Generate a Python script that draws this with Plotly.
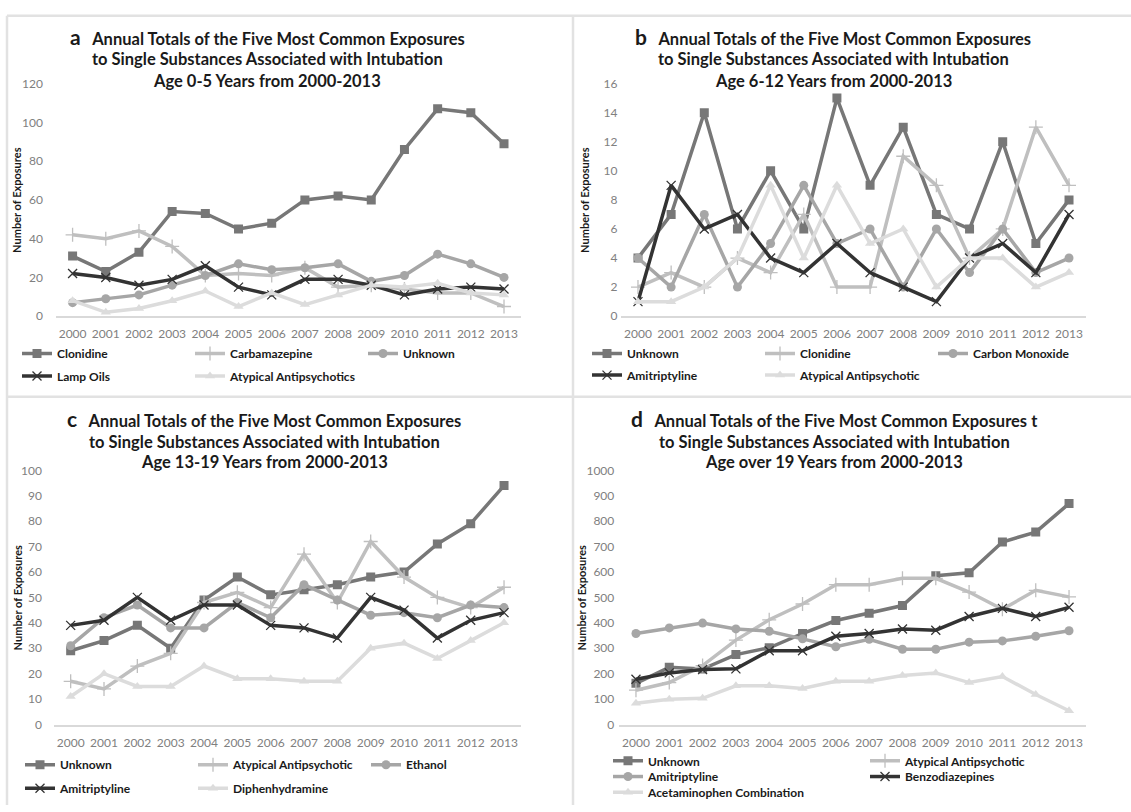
import plotly.graph_objects as go

W, H = 1131, 812
years = list(range(2000, 2014))

# ---- Panel a: Age 0-5 ----
a_names = ["Clonidine", "Carbamazepine", "Unknown", "Lamp Oils", "Atypical Antipsychotics"]
a_clonidine = [31, 23, 33, 54, 53, 45, 48, 60, 62, 60, 86, 107, 105, 89]
a_carbamazepine = [42, 40, 44, 36, 21, 22, 21, 25, 15, 16, 14, 12, 12, 5]
a_unknown = [7, 9, 11, 16, 21, 27, 24, 25, 27, 18, 21, 32, 27, 20]
a_lamp_oils = [22, 20, 16, 19, 26, 15, 11, 19, 19, 16, 11, 14, 15, 14]
a_atypical = [8, 2, 4, 8, 13, 5, 12, 6, 11, 16, 15, 17, 12, 11]

# ---- Panel b: Age 6-12 ----
b_names = ["Unknown", "Clonidine", "Carbon Monoxide", "Amitriptyline", "Atypical Antipsychotic"]
b_unknown = [4, 7, 14, 6, 10, 6, 15, 9, 13, 7, 6, 12, 5, 8]
b_clonidine = [2, 3, 2, 4, 3, 7, 2, 2, 11, 9, 4, 6, 13, 9]
b_carbon_monoxide = [4, 2, 7, 2, 5, 9, 5, 6, 2, 6, 3, 6, 3, 4]
b_amitriptyline = [1, 9, 6, 7, 4, 3, 5, 3, 2, 1, 4, 5, 3, 7]
b_atypical = [1, 1, 2, 4, 9, 4, 9, 5, 6, 2, 4, 4, 2, 3]

# ---- Panel c: Age 13-19 ----
c_names = ["Unknown", "Atypical Antipsychotic", "Ethanol", "Amitriptyline", "Diphenhydramine"]
c_unknown = [29, 33, 39, 30, 49, 58, 51, 53, 55, 58, 60, 71, 79, 94]
c_atypical = [17, 14, 23, 28, 48, 52, 46, 67, 48, 72, 58, 50, 46, 54]
c_ethanol = [31, 42, 47, 38, 38, 48, 42, 55, 49, 43, 44, 42, 47, 46]
c_amitriptyline = [39, 41, 50, 41, 47, 47, 39, 38, 34, 50, 45, 34, 41, 44]
c_diphenhydramine = [11, 20, 15, 15, 23, 18, 18, 17, 17, 30, 32, 26, 33, 40]

# ---- Panel d: Age over 19 ----
d_names = ["Unknown", "Atypical Antipsychotic", "Amitriptyline", "Benzodiazepines", "Acetaminophen Combination"]
d_unknown = [162, 225, 218, 275, 302, 358, 409, 438, 468, 585, 597, 718, 757, 869]
d_atypical = [135, 165, 232, 332, 412, 474, 550, 550, 575, 575, 521, 453, 528, 502]
d_amitriptyline = [358, 380, 399, 376, 367, 337, 306, 335, 296, 296, 324, 329, 347, 369]
d_benzodiazepines = [178, 203, 216, 219, 290, 290, 347, 358, 376, 371, 425, 457, 425, 461]
d_acetaminophen = [84, 99, 103, 152, 152, 142, 170, 170, 193, 203, 165, 189, 118, 54]

titles = {
    "a": ["Annual Totals of the Five Most Common Exposures",
          "to Single Substances Associated with Intubation",
          "Age 0-5 Years from 2000-2013"],
    "b": ["Annual Totals of the Five Most Common Exposures",
          "to Single Substances Associated with Intubation",
          "Age 6-12 Years from 2000-2013"],
    "c": ["Annual Totals of the Five Most Common Exposures",
          "to Single Substances Associated with Intubation",
          "Age 13-19 Years from 2000-2013"],
    "d": ["Annual Totals of the Five Most Common Exposures t",
          "to Single Substances Associated with Intubation",
          "Age over 19 Years from 2000-2013"],
}

FONT = "Lato"
COLORS = ["#777777", "#bfbfbf", "#a6a6a6", "#333333", "#dcdcdc"]
SYMBOLS = ["square", "cross-thin", "circle", "x-thin", "triangle-up"]
SIZES = [9, 10, 9, 9, 9]


def pxx(x):
    return x / W


def pxy(y):
    return 1 - y / H


fig = go.Figure()

panels = [
    dict(key="a", ax="", data=[a_clonidine, a_carbamazepine, a_unknown, a_lamp_oils, a_atypical],
         names=a_names, xd=(56, 520.6), yd=(77, 314), yr=120, dt=20, ystand=12,
         tx=267, ty=(29, 52, 74), ytx=17,
         rows=[(352, 17), (375, 17)], split=[3, 2], ew=168),
    dict(key="b", ax="2", data=[b_unknown, b_clonidine, b_carbon_monoxide, b_amitriptyline, b_atypical],
         names=b_names, xd=(621.4, 1085.6), yd=(77, 314), yr=16, dt=2, ystand=3,
         tx=833, ty=(29, 52, 74), ytx=585,
         rows=[(352, 587), (374, 587)], split=[3, 2], ew=168),
    dict(key="c", ax="3", data=[c_unknown, c_atypical, c_ethanol, c_amitriptyline, c_diphenhydramine],
         names=c_names, xd=(54, 520.7), yd=(471, 730), yr=100, dt=10, ystand=11,
         tx=264, ty=(418, 442, 463), ytx=17,
         rows=[(771, 20), (795, 20)], split=[3, 2], ew=168),
    dict(key="d", ax="4", data=[d_unknown, d_atypical, d_amitriptyline, d_benzodiazepines, d_acetaminophen],
         names=d_names, xd=(619.3, 1085.7), yd=(471, 730), yr=1000, dt=100, ystand=4,
         tx=834, ty=(418, 442, 463), ytx=581,
         rows=[(767, 608), (783, 608), (799, 608)], split=[2, 2, 1], ew=252),
]

layout = dict(
    width=W, height=H, margin=dict(l=0, r=0, t=0, b=0),
    paper_bgcolor="white", plot_bgcolor="white",
    font=dict(family=FONT, color="#808080", size=12),
    showlegend=True,
)
annotations = []
legend_counter = 0

for p in panels:
    ax = p["ax"]
    xa = "xaxis" + ax
    ya = "yaxis" + ax
    layout[xa] = dict(
        domain=[pxx(p["xd"][0]), pxx(p["xd"][1])],
        anchor="y" + ax, range=[1999.5, 2013.5],
        tickvals=years, ticktext=[str(y) for y in years],
        showgrid=False, zeroline=False, showline=True,
        linecolor="#d9d9d9", linewidth=1.5, ticks="",
        tickfont=dict(family=FONT, size=12, color="#808080"),
        ticklabelstandoff=6, fixedrange=True,
    )
    layout[ya] = dict(
        domain=[pxy(p["yd"][1]), pxy(p["yd"][0])],
        anchor="x" + ax, range=[0, p["yr"]], dtick=p["dt"], tick0=0,
        showgrid=False, zeroline=False, showline=False, ticks="",
        tickfont=dict(family=FONT, size=12, color="#808080"),
        ticklabelstandoff=p["ystand"], fixedrange=True,
    )

    # legends (one per row)
    legend_ids = []
    for (ry, lx), n in zip(p["rows"], p["split"]):
        legend_counter += 1
        lid = "legend" if legend_counter == 1 else "legend%d" % legend_counter
        layout[lid] = dict(
            x=pxx(lx), y=pxy(ry), xanchor="left", yanchor="middle",
            orientation="h", entrywidth=p["ew"] - 40, entrywidthmode="pixels",
            font=dict(family=FONT, size=12, color="#1a1a1a", weight="bold"),
            bgcolor="rgba(0,0,0,0)", borderwidth=0, itemwidth=30,
            traceorder="normal",
        )
        legend_ids += [lid] * n

    for i, (vals, name) in enumerate(zip(p["data"], p["names"])):
        thin = SYMBOLS[i] in ("cross-thin", "x-thin")
        fig.add_trace(go.Scatter(
            x=years, y=vals, name=name, mode="lines+markers",
            xaxis="x" + ax, yaxis="y" + ax,
            line=dict(color=COLORS[i], width=3.5),
            marker=dict(symbol=SYMBOLS[i], size=SIZES[i], color=COLORS[i],
                        line=dict(color=COLORS[i], width=1.3 if thin else 0)),
            legend=legend_ids[i],
            hoverinfo="x+y+name",
        ))

    # titles
    t = titles[p["key"]]
    annotations.append(dict(
        x=pxx(p["tx"]), y=pxy(p["ty"][0]), xref="paper", yref="paper",
        xanchor="center", yanchor="middle", showarrow=False,
        text="<span style='font-size:21px'>%s</span>&nbsp;&nbsp;&nbsp;%s" % (p["key"], t[0]),
        font=dict(family=FONT, size=16.5, color="#1a1a1a", weight="bold"),
    ))
    for j in (1, 2):
        annotations.append(dict(
            x=pxx(p["tx"]), y=pxy(p["ty"][j]), xref="paper", yref="paper",
            xanchor="center", yanchor="middle", showarrow=False,
            text=t[j],
            font=dict(family=FONT, size=16.5, color="#1a1a1a", weight="bold"),
        ))
    # y title
    annotations.append(dict(
        x=pxx(p["ytx"]), y=pxy((p["yd"][0] + p["yd"][1]) / 2), xref="paper", yref="paper",
        xanchor="center", yanchor="middle", showarrow=False, textangle=-90,
        text="Number of Exposures",
        font=dict(family=FONT, size=11, color="#1a1a1a", weight="bold"),
    ))

shapes = []
border = dict(color="#e2e2e2", width=2.5)
shapes.append(dict(type="line", xref="paper", yref="paper", x0=pxx(573), x1=pxx(573), y0=0, y1=pxy(8), line=border))
shapes.append(dict(type="line", xref="paper", yref="paper", x0=pxx(7), x1=1, y0=pxy(396), y1=pxy(396), line=border))
shapes.append(dict(type="line", xref="paper", yref="paper", x0=pxx(7), x1=pxx(7), y0=0, y1=pxy(8), line=border))
shapes.append(dict(type="line", xref="paper", yref="paper", x0=pxx(7), x1=1, y0=pxy(8), y1=pxy(8), line=border))

layout["annotations"] = annotations
layout["shapes"] = shapes
fig.update_layout(**layout)

fig.write_html("out.html", config={"displayModeBar": False},
               post_script="document.body.style.margin='0';document.body.style.overflow='hidden';")
